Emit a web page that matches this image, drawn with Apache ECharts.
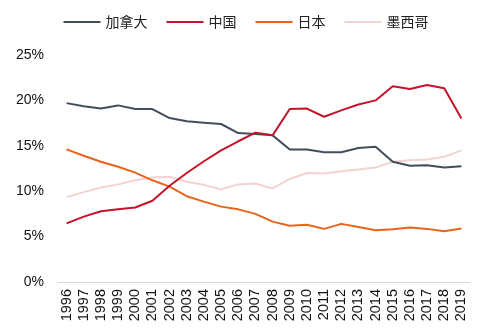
<!DOCTYPE html>
<html><head><meta charset="utf-8">
<script src="https://cdn.jsdelivr.net/npm/echarts@6/dist/echarts.min.js"></script>
<style>html,body{margin:0;padding:0;background:#fff}#c{width:492px;height:336px}</style>
</head><body><div id="c"></div>
<script>
const years = ["1996","1997","1998","1999","2000","2001","2002","2003","2004","2005","2006","2007","2008","2009","2010","2011","2012","2013","2014","2015","2016","2017","2018","2019"];
const canada = [19.7,19.35,19.1,19.45,19.05,19.05,18.05,17.7,17.55,17.4,16.4,16.3,16.15,14.6,14.6,14.3,14.3,14.75,14.9,13.25,12.8,12.85,12.6,12.75];
const china = [6.45,7.2,7.8,8.0,8.2,8.95,10.6,12.0,13.3,14.5,15.5,16.45,16.15,19.05,19.1,18.2,18.9,19.55,20.0,21.55,21.25,21.7,21.35,18.0];
const japan = [14.6,13.9,13.25,12.7,12.05,11.2,10.5,9.45,8.85,8.3,8.0,7.5,6.65,6.2,6.3,5.85,6.4,6.05,5.7,5.8,6.0,5.85,5.6,5.9];
const mexico = [9.35,9.9,10.4,10.75,11.2,11.5,11.6,11.05,10.7,10.2,10.75,10.85,10.3,11.35,12.0,11.95,12.2,12.4,12.6,13.25,13.4,13.5,13.8,14.5];
const names = ["加拿大","中国","日本","墨西哥"];
const colors = ["#434D5B","#C3142B","#E8641A","#F4D2D2"];
const yTicks = [0,5,10,15,20,25];

const chart = echarts.init(document.getElementById('c'));
const font = "Liberation Sans, Arial, sans-serif";
const mk = (n, d, c) => ({name:n, type:'line', data:d, symbol:'none', smooth:false,
  lineStyle:{width:2, color:c}, itemStyle:{color:c}});
chart.setOption({
  animation:false,
  textStyle:{fontFamily:font},
  legend:{top:10, left:'center', icon:'rect', itemWidth:37, itemHeight:2, itemGap:19,
    textStyle:{fontSize:14, color:'#222', fontFamily:"Noto Sans CJK SC"}, data:names},
  grid:{left:58, right:22, top:55, bottom:54},
  xAxis:{type:'category', data:years, boundaryGap:true,
    axisLine:{lineStyle:{color:'#D9D9D9', width:1}}, axisTick:{show:false},
    axisLabel:{rotate:90, interval:0, fontSize:14.5, color:'#111', margin:7}},
  yAxis:{type:'value', min:yTicks[0], max:yTicks[yTicks.length-1], interval:5,
    axisLine:{show:false}, axisTick:{show:false}, splitLine:{show:false},
    axisLabel:{formatter:v=>v+'%', fontSize:14, color:'#111', margin:14}},
  series:[mk(names[3],mexico,colors[3]), mk(names[2],japan,colors[2]), mk(names[0],canada,colors[0]), mk(names[1],china,colors[1])]
});
</script></body></html>
